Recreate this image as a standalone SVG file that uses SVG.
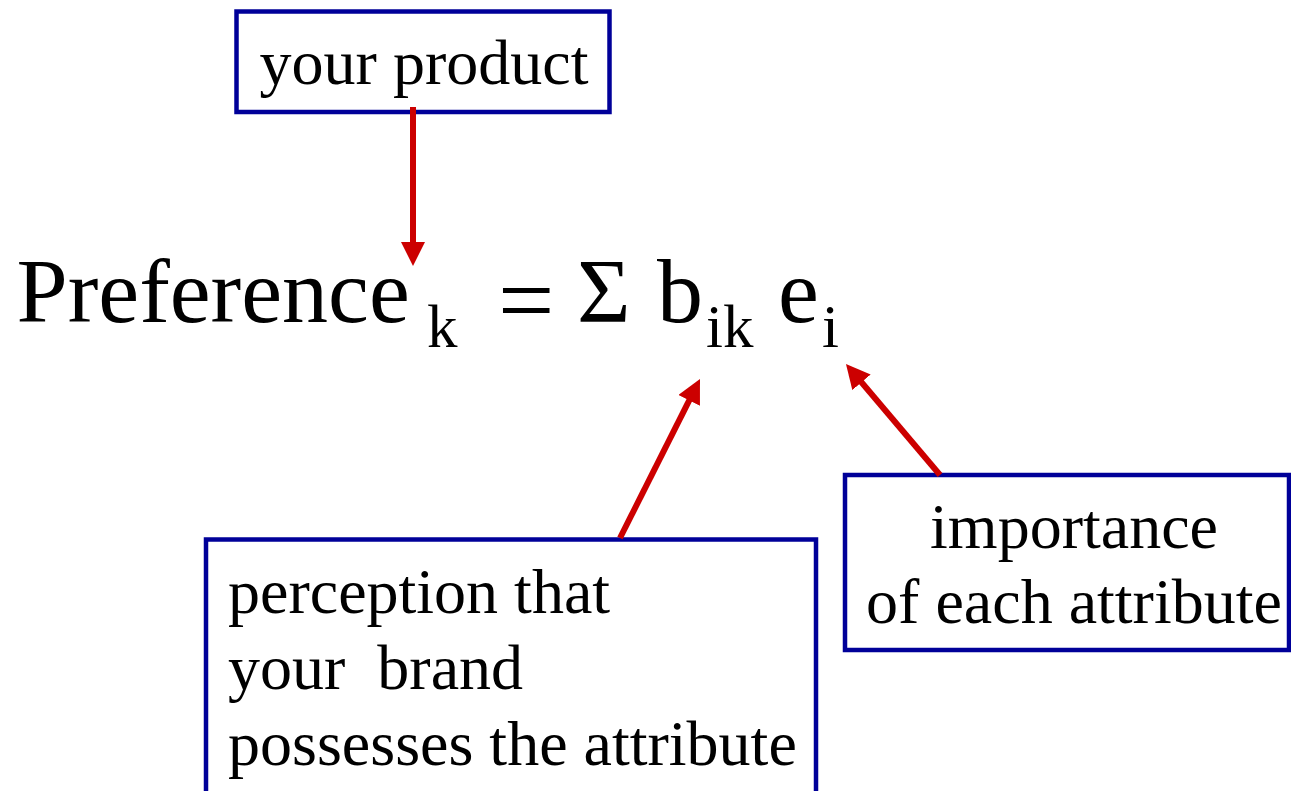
<svg xmlns="http://www.w3.org/2000/svg" width="1291" height="791" viewBox="0 0 1291 791">
  <style>
    .box { fill: #ffffff; stroke: #000099; stroke-width: 4.5; }
    .lbl { font-family: "Liberation Serif", "Times New Roman", serif; font-size: 64px; fill: #000000; }
    .eq { font-family: "Liberation Serif", "Times New Roman", serif; font-size: 92px; fill: #000000; }
    .sub { font-size: 61px; }
    .conn { stroke: #cc0000; stroke-width: 6; fill: none; marker-end: url(#ah); }
  </style>
  <defs>
    <marker id="ah" markerUnits="userSpaceOnUse" markerWidth="24" markerHeight="24" refX="2" refY="12" orient="auto" viewBox="0 0 24 24">
      <path d="M0,0 L24,12 L0,24 z" fill="#cc0000"/>
    </marker>
  </defs>
  <rect width="1291" height="791" fill="#ffffff"/>

  <g id="node-your-product">
    <rect class="box" x="236.5" y="11.5" width="373" height="100.5"/>
    <text class="lbl" x="424" y="84" text-anchor="middle">your product</text>
  </g>

  <g id="node-equation">
    <text class="eq" y="322"><tspan x="16.5">Preference</tspan><tspan class="sub" x="427" y="347">k</tspan><tspan x="498" y="334" style="font-size:100px">=</tspan><tspan x="577" y="322">Σ</tspan><tspan x="657">b</tspan><tspan class="sub" x="706" y="347">ik</tspan><tspan x="778" y="322">e</tspan><tspan class="sub" x="822" y="347">i</tspan></text>
  </g>

  <g id="node-perception">
    <rect class="box" x="206" y="539.5" width="610" height="300"/>
    <text class="lbl" x="228" y="613">perception that</text>
    <text class="lbl" x="228" y="689" xml:space="preserve" style="white-space:pre">your  brand</text>
    <text class="lbl" x="228" y="765">possesses the attribute</text>
  </g>

  <g id="node-importance">
    <rect class="box" x="845" y="475" width="444" height="175"/>
    <text class="lbl" x="1074" y="548" text-anchor="middle">importance</text>
    <text class="lbl" x="1074" y="623" text-anchor="middle">of each attribute</text>
  </g>

  <g id="connectors">
    <line class="conn" x1="413" y1="107" x2="413" y2="244"/>
    <line class="conn" x1="620" y1="538" x2="690.1" y2="398.6"/>
    <line class="conn" x1="940" y1="475" x2="860.2" y2="380.8"/>
  </g>
</svg>
